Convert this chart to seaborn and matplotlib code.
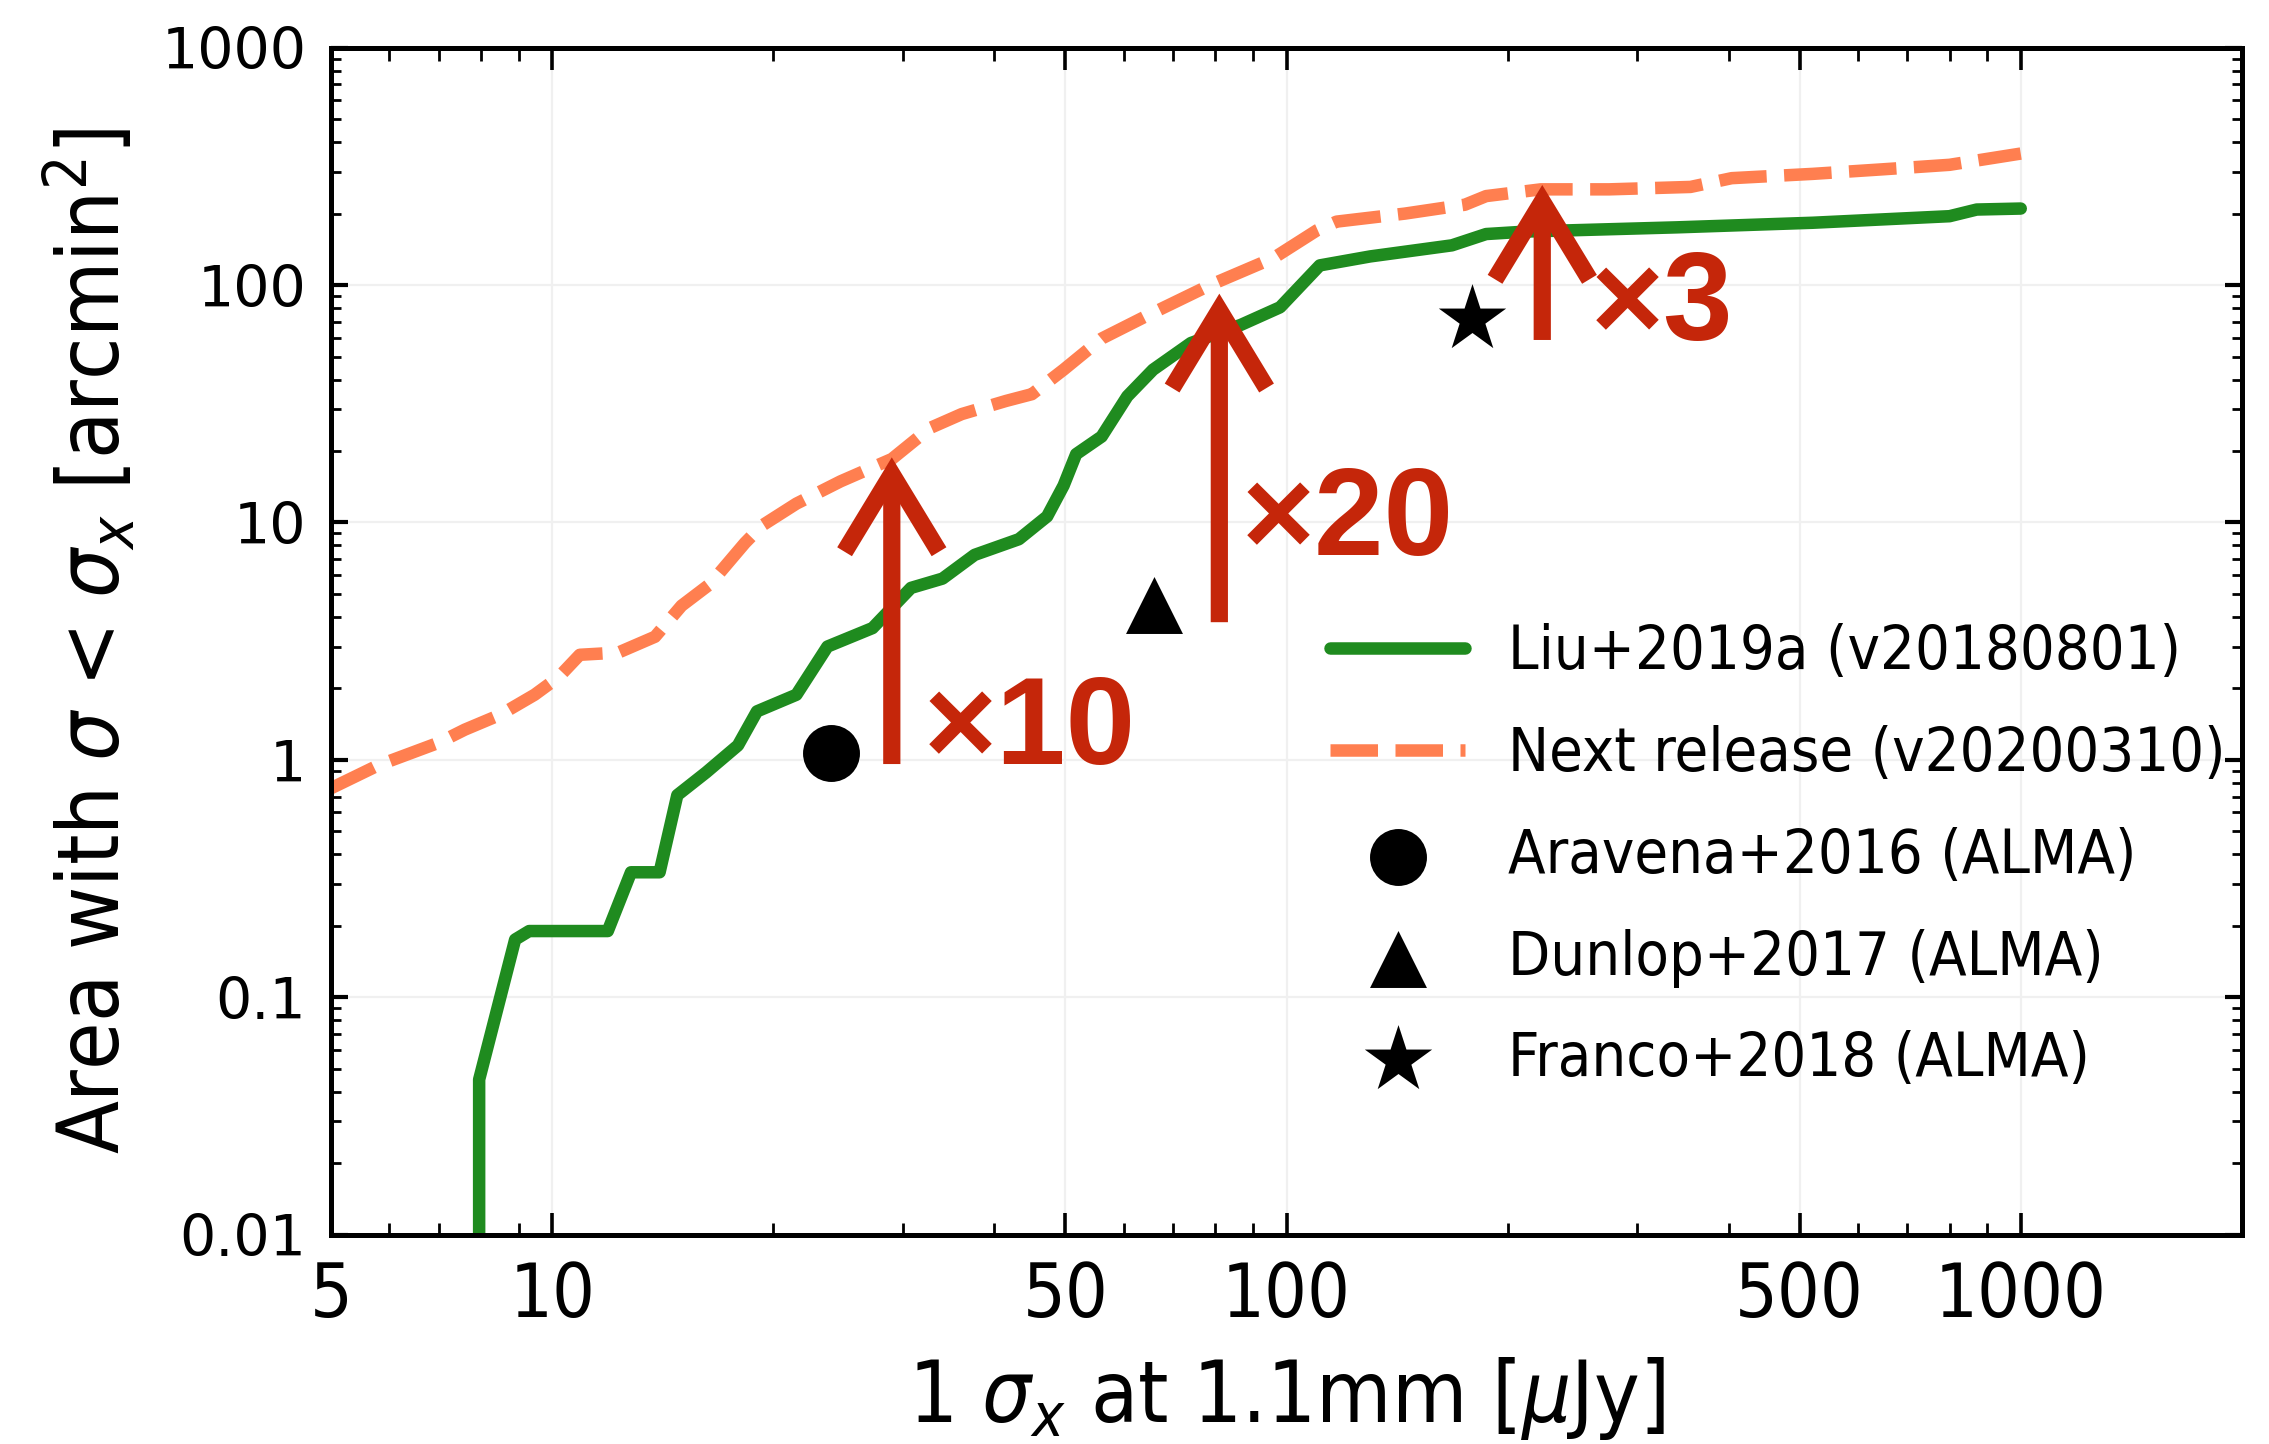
import matplotlib
matplotlib.use("Agg")
import matplotlib.pyplot as plt
from matplotlib import font_manager as fm
from matplotlib.ticker import FixedLocator, NullFormatter, FixedFormatter
import seaborn as sns
import pandas as pd

# ---------------- data ----------------
liu_x = [7.95, 7.95, 8.9, 9.3, 11.9, 12.8, 14.0, 14.8, 16.2, 17.9, 19.0, 21.5, 23.7,
         27.3, 30.8, 34.0, 37.6, 43.2, 47.2, 49.7, 51.7, 56, 60.7, 65.8, 74.1, 86.7,
         98, 111, 130, 168, 187, 212, 340, 521, 800, 871, 1000]
liu_y = [0.005, 0.045, 0.175, 0.19, 0.19, 0.336, 0.336, 0.71, 0.885, 1.15, 1.6, 1.88, 3.0,
         3.59, 5.3, 5.8, 7.3, 8.5, 10.6, 14.3, 19.4, 23, 34, 44, 57, 68,
         80.6, 121, 132, 147, 164, 168, 175, 183, 195, 208, 210]

next_x = [5, 5.8, 7.0, 7.6, 8.5, 9.46, 10.2, 10.9, 12.3, 13.8, 15.0, 16.4, 18.3, 19.3,
          21.5, 24.7, 29.0, 32.7, 36.1, 41.5, 45, 49.7, 56, 64.4, 78.7, 96, 110, 117,
          145, 175, 187, 222, 275, 355, 404, 521, 646, 800, 1000]
next_y = [0.76, 0.95, 1.18, 1.34, 1.55, 1.88, 2.23, 2.77, 2.83, 3.3, 4.46, 5.5, 8.2, 9.7,
          12, 14.9, 18.5, 25, 28.6, 32.5, 34.7, 44, 59.5, 74, 100, 130, 170, 185,
          200, 218, 237, 253, 253, 259, 282, 294, 307, 321, 358]

surveys = ["Aravena+2016 (ALMA)", "Dunlop+2017 (ALMA)", "Franco+2018 (ALMA)"]
survey_x = [24.0, 66.0, 179.0]
survey_y = [1.07, 4.5, 72.0]
survey_markers = ["o", "^", "*"]

line_labels = ["Liu+2019a (v20180801)", "Next release (v20200310)"]

arrow_x = [29.0, 81.0, 223.0]
arrow_base = [0.96, 3.8, 58.7]
arrow_tip = [18.8, 92.0, 264.0]
arrow_text = ["×10", "×20", "×3"]
text_x = [32.1, 87.0, 260.0]
text_y = [0.96, 7.3, 58.7]

x_ticks = [5, 10, 50, 100, 500, 1000]
x_ticklabels = ["5", "10", "50", "100", "500", "1000"]
y_ticks = [0.01, 0.1, 1, 10, 100, 1000]
y_ticklabels = ["0.01", "0.1", "1", "10", "100", "1000"]

# ---------------- styling ----------------
GREEN = "#1f8b1f"
CORAL = "#FF7F50"
RED = "#C5260A"

sns.set_theme(style="ticks")
flist = fm.fontManager.ttflist
names = {f.name for f in flist}
has_narrow = "Liberation Sans Narrow" in names
has_dv_cond = any(f.name == "DejaVu Sans" and f.stretch == "condensed" for f in flist)
if has_narrow:
    label_family, label_stretch, cond_ok = "Liberation Sans Narrow", "normal", True
elif has_dv_cond:
    label_family, label_stretch, cond_ok = "DejaVu Sans", "condensed", True
else:
    label_family, label_stretch, cond_ok = "DejaVu Sans", "normal", False
bold_font = "Liberation Sans" if "Liberation Sans" in names else "DejaVu Sans"

plt.rcParams["font.family"] = [label_family, "DejaVu Sans"]
plt.rcParams["font.stretch"] = label_stretch
plt.rcParams["mathtext.fontset"] = "dejavusans"
for k in ["text.color", "axes.labelcolor", "xtick.color", "ytick.color", "axes.edgecolor"]:
    plt.rcParams[k] = "black"

fig = plt.figure(figsize=(11.345, 7.22), dpi=200)
ax = fig.add_axes([0.146, 0.145, 0.842, 0.822])
ax.set_facecolor("white")

df_liu = pd.DataFrame({"x": liu_x, "y": liu_y})
df_next = pd.DataFrame({"x": next_x, "y": next_y})

sns.lineplot(data=df_liu, x="x", y="y", ax=ax, color=GREEN, lw=4.5,
             estimator=None, sort=False, label=line_labels[0])
sns.lineplot(data=df_next, x="x", y="y", ax=ax, color=CORAL, lw=4.5,
             estimator=None, sort=False, label=line_labels[1])
ax.lines[-1].set_dashes((3.8, 1.4))

sizes = [420, 420, 650]
for lab, xx, yy, mk, s in zip(surveys, survey_x, survey_y, survey_markers, sizes):
    sns.scatterplot(x=[xx], y=[yy], ax=ax, marker=mk, s=s, color="black",
                    edgecolor="black", linewidth=0, label=lab, zorder=5)

ax.set_xscale("log")
ax.set_yscale("log")
ax.set_xlim(5, 2000)
ax.set_ylim(0.01, 1000)

# arrows and factors
for xa, yb, yt, t, tx, ty in zip(arrow_x, arrow_base, arrow_tip, arrow_text, text_x, text_y):
    ax.annotate("", xy=(xa, yt), xytext=(xa, yb),
                arrowprops=dict(arrowstyle="->,head_length=2.8,head_width=1.7",
                                lw=6.2, color=RED, shrinkA=0, shrinkB=0,
                                mutation_scale=10, joinstyle="miter", capstyle="butt"),
                zorder=6)
    ax.text(tx, ty, t, color=RED, fontsize=45, fontweight="bold", fontstretch="normal",
            family=[bold_font, "DejaVu Sans"], ha="left", va="baseline", zorder=6)

# ticks
ax.xaxis.set_major_locator(FixedLocator(x_ticks))
ax.xaxis.set_major_formatter(FixedFormatter(x_ticklabels))
x_minor = [6, 7, 8, 9, 20, 30, 40, 60, 70, 80, 90, 200, 300, 400, 600, 700, 800, 900, 2000]
ax.xaxis.set_minor_locator(FixedLocator(x_minor))
ax.xaxis.set_minor_formatter(NullFormatter())
ax.yaxis.set_major_locator(FixedLocator(y_ticks))
ax.yaxis.set_major_formatter(FixedFormatter(y_ticklabels))
y_minor = [m * 10.0 ** e for e in range(-2, 3) for m in range(2, 10)]
ax.yaxis.set_minor_locator(FixedLocator(y_minor))
ax.yaxis.set_minor_formatter(NullFormatter())

ax.tick_params(axis="both", which="both", direction="in", top=True, right=True,
               color="black", labelcolor="black")
ax.tick_params(axis="x", which="major", length=8, width=1.3, pad=9,
               labelsize=27 if cond_ok else 24)
ax.tick_params(axis="x", which="minor", length=4.5, width=1.0)
ax.tick_params(axis="y", which="major", length=6, width=1.5, pad=9, labelsize=20.5)
ax.tick_params(axis="y", which="minor", length=3.5, width=1.0)
for lab in ax.get_yticklabels():
    lab.set_family("DejaVu Sans")
    lab.set_stretch("normal")

for sp in ax.spines.values():
    sp.set_linewidth(1.8)
    sp.set_color("black")

ax.grid(True, which="major", color="#f0f0f0", lw=0.8)
ax.set_axisbelow(True)

lab_size = 31 if cond_ok else 28
ax.set_xlabel(r"1 $\sigma_x$ at 1.1mm [$\mu$Jy]", fontsize=lab_size, labelpad=8)
ax.set_ylabel(r"Area with $\sigma$ < $\sigma_x$ [arcmin$^2$]", fontsize=lab_size, labelpad=8)

handles, labels = ax.get_legend_handles_labels()
leg_size = 22 if cond_ok else 18
leg = ax.legend(handles, labels, loc="upper left", bbox_to_anchor=(0.523, 0.515),
                frameon=False, prop=dict(family=[label_family, "DejaVu Sans"],
                                         stretch=label_stretch, size=leg_size),
                handlelength=2.7 if not cond_ok else 2.2,
                handletextpad=0.8 if not cond_ok else 0.7,
                labelspacing=0.85 if not cond_ok else 0.7,
                borderpad=0, borderaxespad=0)

fig.savefig("out.png", dpi=200)
